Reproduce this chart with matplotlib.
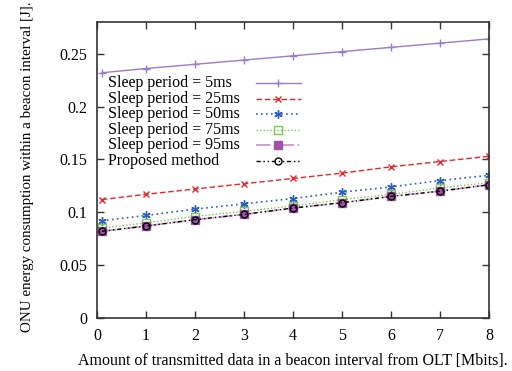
import numpy as np
import matplotlib
matplotlib.use('Agg')
import matplotlib.pyplot as plt

# data
x = [0.1, 1, 2, 3, 4, 5, 6, 7, 8]
sleep5 = [0.232, 0.236, 0.240, 0.244, 0.248, 0.252, 0.256, 0.260, 0.264]
sleep25 = [0.112, 0.117, 0.122, 0.127, 0.132, 0.137, 0.143, 0.148, 0.153]
sleep50 = [0.092, 0.097, 0.103, 0.108, 0.113, 0.119, 0.124, 0.130, 0.135]
sleep75 = [0.085, 0.090, 0.096, 0.101, 0.106, 0.112, 0.117, 0.123, 0.128]
sleep95 = [0.082, 0.087, 0.093, 0.098, 0.104, 0.109, 0.115, 0.120, 0.126]
proposed = [0.082, 0.087, 0.093, 0.098, 0.104, 0.109, 0.115, 0.120, 0.126]
labels = ["Sleep period = 5ms", "Sleep period = 25ms", "Sleep period = 50ms",
          "Sleep period = 75ms", "Sleep period = 95ms", "Proposed method"]

plt.rcParams['font.family'] = ['Liberation Serif', 'DejaVu Serif']
plt.rcParams['font.size'] = 11.5

fig = plt.figure(figsize=(5.12, 3.71), dpi=100)
ax = fig.add_axes([0.1895, 0.1429, 0.7655, 0.7978])

styles = [
    dict(color='#9a7ccc', ls='-', lw=1, marker='+', ms=6),
    dict(color='#e8262c', ls=(0, (4, 2)), lw=1, marker='x', ms=5),
    dict(color='#2a5fbf', ls=(0, (1, 2)), lw=1.2, marker=(6, 2, 0), ms=6),
    dict(color='#7cc850', ls=(0, (1, 1.5)), lw=1, marker='s', ms=6, mfc='none'),
    dict(color='#c898d0', ls=(0, (8, 2, 1, 2)), lw=1.3, marker='s', ms=6,
         mfc='#a050a8', mec='#a050a8'),
    dict(color='black', ls=(0, (3, 2, 1, 2, 1, 2)), lw=1, marker='o', ms=5, mfc='none'),
]
series = [sleep5, sleep25, sleep50, sleep75, sleep95, proposed]

for ys, st in zip(series, styles):
    ax.plot(x, ys, **st)

# gnuplot style key: text on the left, sample on the right
for i, (lab, st) in enumerate(zip(labels, styles)):
    yk = 0.794 - i * 0.0527
    line_st = {k: v for k, v in st.items() if k in ('color', 'ls', 'lw')}
    ax.plot([0.406, 0.520], [yk, yk], transform=ax.transAxes, **line_st)
    mk_st = {k: v for k, v in st.items() if k not in ('ls', 'lw')}
    ax.plot([0.462], [yk], transform=ax.transAxes, ls='none', **mk_st)
    ax.text(0.028, yk, lab, transform=ax.transAxes, va='center', ha='left')

ax.set_xlim(0, 8)
ax.set_ylim(0, 0.28)
ax.set_xticks(range(0, 9))
ax.set_yticks([0, 0.05, 0.1, 0.15, 0.2, 0.25])
ax.set_yticklabels(['0', '0.05', '0.1', '0.15', '0.2', '0.25'])
ax.tick_params(direction='in', top=True, right=True, length=5, width=1, colors='#333333',
               labelcolor='black', pad=7)
for s in ax.spines.values():
    s.set_color('#333333')
    s.set_linewidth(1.2)

ax.set_xlabel("Amount of transmitted data in a beacon interval from OLT [Mbits].", labelpad=7)
ax.set_ylabel("ONU energy consumption within a beacon interval [J].", labelpad=18,
              fontsize=10.8)
ax.yaxis.label.set_y(0.51)

fig.savefig('out.png', dpi=100)
